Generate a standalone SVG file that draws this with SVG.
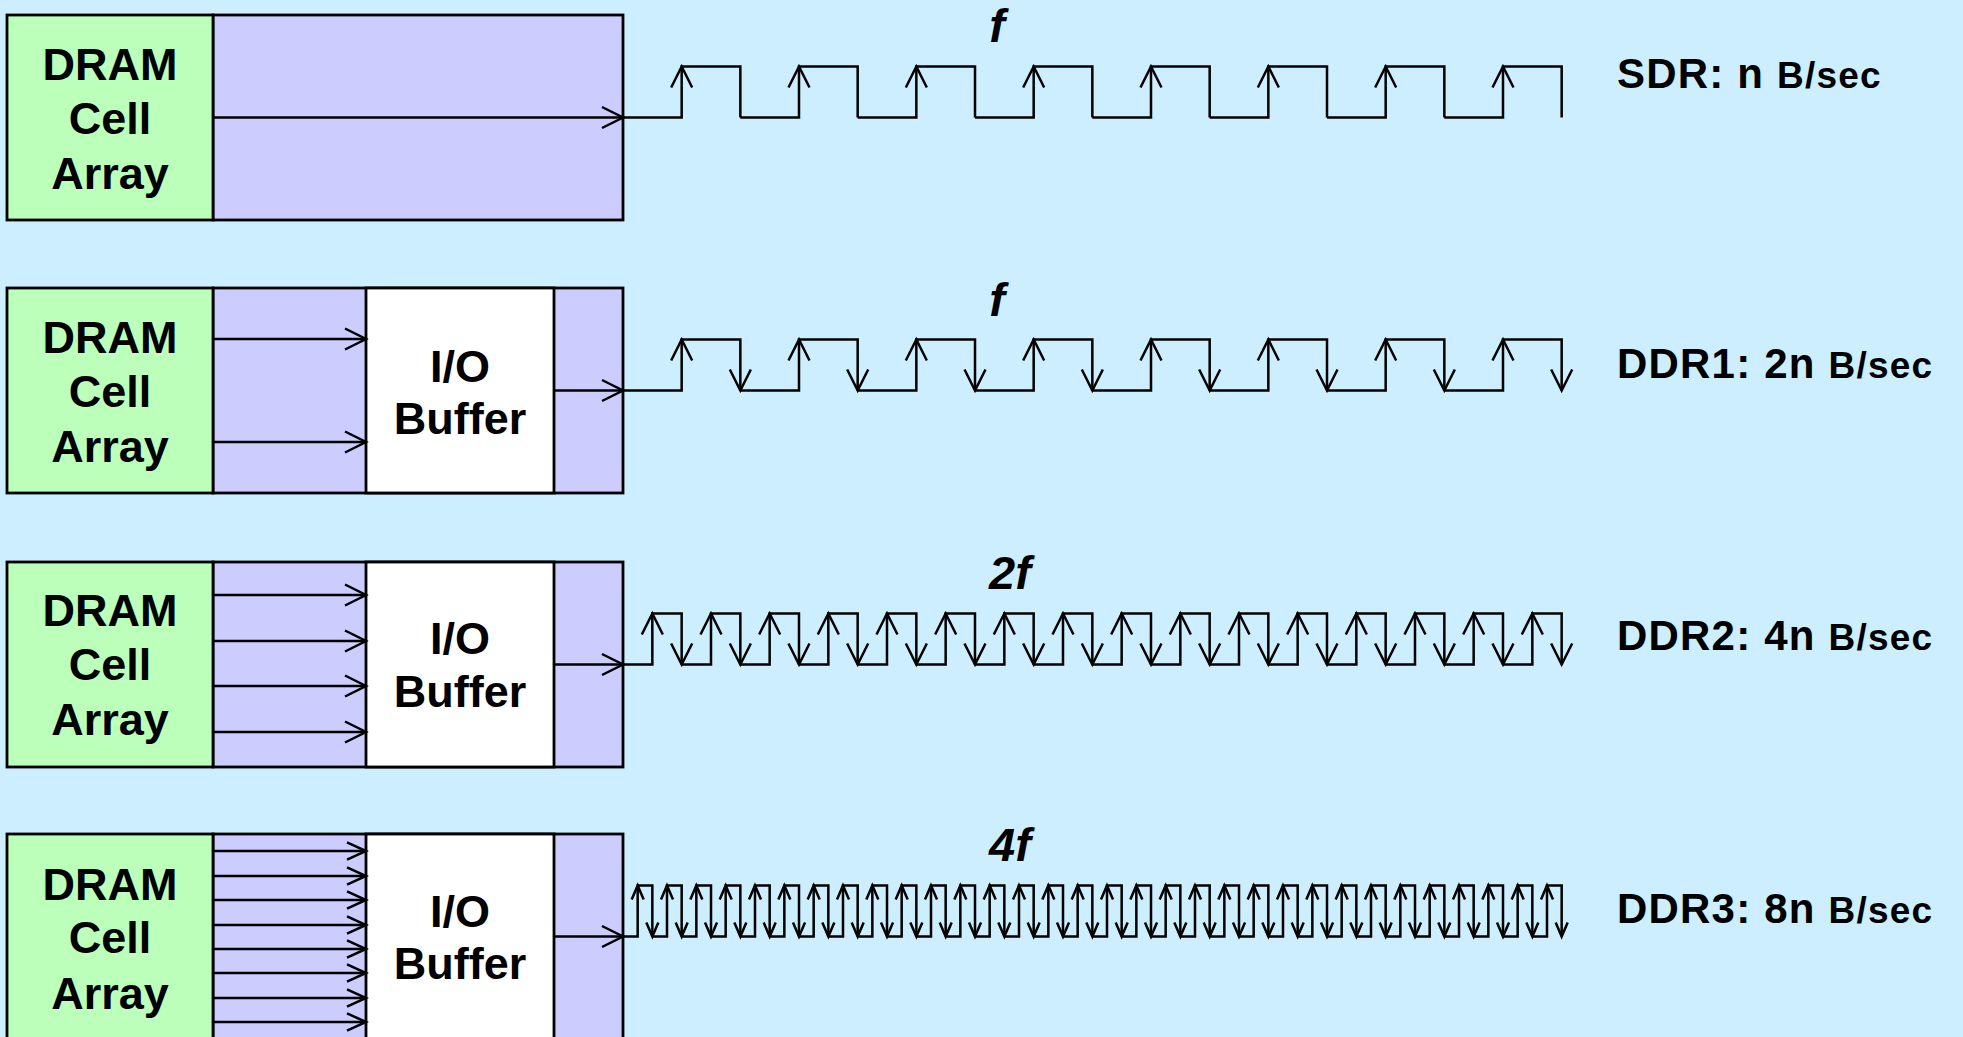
<svg xmlns="http://www.w3.org/2000/svg" xmlns:xlink="http://www.w3.org/1999/xlink" width="1963" height="1037" viewBox="0 0 1963 1037">
  <style>
    .bg { fill: #cceeff; }
    .cell { fill: #bbffbb; stroke: #000; stroke-width: 2.8; }
    .bus { fill: #ccccff; stroke: #000; stroke-width: 2.8; }
    .buf { fill: #ffffff; stroke: #000; stroke-width: 2.8; }
    .lbl { font-family: "Liberation Sans", Arial, sans-serif; font-weight: bold; font-size: 45px; fill: #000; text-anchor: middle; }
    .rate { font-family: "Liberation Sans", Arial, sans-serif; font-weight: bold; font-size: 42px; fill: #000; letter-spacing: 1.2px; }
    .rate .u { font-size: 37px; }
    .freq { font-family: "Liberation Sans", Arial, sans-serif; font-weight: bold; font-style: italic; font-size: 47px; fill: #000; text-anchor: middle; }
    .wire { fill: none; stroke: #000; stroke-width: 2.5; stroke-linejoin: miter; }
    .wave { fill: none; stroke: #000; stroke-width: 2.5; stroke-linejoin: miter; }
  </style>
  <defs>
    <marker id="arrow" markerUnits="userSpaceOnUse" markerWidth="24" markerHeight="24" refX="21" refY="10.5" orient="auto" overflow="visible">
      <path d="M0,0 L21,10.5 L0,21" fill="none" stroke="#000" stroke-width="2.5"/>
    </marker>
    <marker id="arrowSm" markerUnits="userSpaceOnUse" markerWidth="20" markerHeight="20" refX="19" refY="8.7" orient="auto" overflow="visible">
      <path d="M0,0 L19,8.7 L0,17.4" fill="none" stroke="#000" stroke-width="2.5"/>
    </marker>
    <!-- one clock period per row: low run, rising edge, high run, falling edge -->
    <g id="pulseSdr" class="wave">
      <path d="M-58.67,0 H0 V-51 H58.67 V0"/>
      <path d="M-10.5,-30 L0,-51 L10.5,-30"/>
    </g>
    <g id="pulseDdr1" class="wave">
      <path d="M-58.67,0 H0 V-51 H58.67 V0"/>
      <path d="M-10.5,-30 L0,-51 L10.5,-30"/>
      <path d="M48.17,-21 L58.67,0 L69.17,-21"/>
    </g>
    <g id="pulseDdr2" class="wave">
      <path d="M-29.33,0 H0 V-51 H29.33 V0"/>
      <path d="M-10.5,-30 L0,-51 L10.5,-30"/>
      <path d="M18.83,-21 L29.33,0 L39.83,-21"/>
    </g>
    <g id="pulseDdr3" class="wave">
      <path d="M-14.67,0 H0 V-51 H14.67 V0"/>
      <path d="M-6,-37 L0,-51 L6,-37"/>
      <path d="M8.67,-14 L14.67,0 L20.67,-14"/>
    </g>
  </defs>

  <rect class="bg" x="0" y="0" width="1963" height="1037"/>

  <!-- SDR -->
  <g id="sdr-bus"><rect class="bus" x="213" y="15" width="410" height="205"/></g>
  <g id="sdr-cell">
    <rect class="cell" x="7" y="15" width="206" height="205"/>
    <text class="lbl" x="110" y="80">DRAM</text>
    <text class="lbl" x="110" y="134">Cell</text>
    <text class="lbl" x="110" y="189">Array</text>
  </g>

  <!-- DDR1 -->
  <g id="ddr1-bus">
    <rect class="bus" x="213" y="288" width="410" height="205"/>
  </g>
  <g id="ddr1-cell">
    <rect class="cell" x="7" y="288" width="206" height="205"/>
    <text class="lbl" x="110" y="353">DRAM</text>
    <text class="lbl" x="110" y="407">Cell</text>
    <text class="lbl" x="110" y="462">Array</text>
  </g>
  <g id="ddr1-buffer">
    <rect class="buf" x="366" y="288" width="188" height="205"/>
    <text class="lbl" x="460" y="382">I/O</text>
    <text class="lbl" x="460" y="434">Buffer</text>
  </g>

  <!-- DDR2 -->
  <g id="ddr2-bus">
    <rect class="bus" x="213" y="562" width="410" height="205"/>
  </g>
  <g id="ddr2-cell">
    <rect class="cell" x="7" y="562" width="206" height="205"/>
    <text class="lbl" x="110" y="626">DRAM</text>
    <text class="lbl" x="110" y="680">Cell</text>
    <text class="lbl" x="110" y="735">Array</text>
  </g>
  <g id="ddr2-buffer">
    <rect class="buf" x="366" y="562" width="188" height="205"/>
    <text class="lbl" x="460" y="654">I/O</text>
    <text class="lbl" x="460" y="707">Buffer</text>
  </g>

  <!-- DDR3 -->
  <g id="ddr3-bus">
    <rect class="bus" x="213" y="834" width="410" height="205"/>
  </g>
  <g id="ddr3-cell">
    <rect class="cell" x="7" y="834" width="206" height="205"/>
    <text class="lbl" x="110" y="900">DRAM</text>
    <text class="lbl" x="110" y="953">Cell</text>
    <text class="lbl" x="110" y="1009">Array</text>
  </g>
  <g id="ddr3-buffer">
    <rect class="buf" x="366" y="834" width="188" height="205"/>
    <text class="lbl" x="460" y="927">I/O</text>
    <text class="lbl" x="460" y="979">Buffer</text>
  </g>

  <!-- data paths -->
  <g id="connectors" class="wire">
    <line x1="213" y1="117.5" x2="623" y2="117.5" marker-end="url(#arrow)"/>

    <line x1="213" y1="339" x2="366" y2="339" marker-end="url(#arrow)"/>
    <line x1="213" y1="442" x2="366" y2="442" marker-end="url(#arrow)"/>
    <line x1="554" y1="390.5" x2="623" y2="390.5" marker-end="url(#arrow)"/>

    <line x1="213" y1="595" x2="366" y2="595" marker-end="url(#arrow)"/>
    <line x1="213" y1="641" x2="366" y2="641" marker-end="url(#arrow)"/>
    <line x1="213" y1="686" x2="366" y2="686" marker-end="url(#arrow)"/>
    <line x1="213" y1="732" x2="366" y2="732" marker-end="url(#arrow)"/>
    <line x1="554" y1="664.5" x2="623" y2="664.5" marker-end="url(#arrow)"/>

    <line x1="213" y1="851" x2="366" y2="851" marker-end="url(#arrowSm)"/>
    <line x1="213" y1="876" x2="366" y2="876" marker-end="url(#arrowSm)"/>
    <line x1="213" y1="900" x2="366" y2="900" marker-end="url(#arrowSm)"/>
    <line x1="213" y1="925" x2="366" y2="925" marker-end="url(#arrowSm)"/>
    <line x1="213" y1="949" x2="366" y2="949" marker-end="url(#arrowSm)"/>
    <line x1="213" y1="973" x2="366" y2="973" marker-end="url(#arrowSm)"/>
    <line x1="213" y1="998" x2="366" y2="998" marker-end="url(#arrowSm)"/>
    <line x1="213" y1="1022" x2="366" y2="1022" marker-end="url(#arrowSm)"/>
    <line x1="554" y1="936.5" x2="623" y2="936.5" marker-end="url(#arrow)"/>
  </g>

  <!-- clock / data waveforms -->
  <g id="wave-sdr" transform="translate(681.67,117.5)">
    <use xlink:href="#pulseSdr" x="0"/>
    <use xlink:href="#pulseSdr" x="117.33"/>
    <use xlink:href="#pulseSdr" x="234.67"/>
    <use xlink:href="#pulseSdr" x="352"/>
    <use xlink:href="#pulseSdr" x="469.33"/>
    <use xlink:href="#pulseSdr" x="586.67"/>
    <use xlink:href="#pulseSdr" x="704"/>
    <use xlink:href="#pulseSdr" x="821.33"/>
  </g>
  <g id="wave-ddr1" transform="translate(681.67,390.5)">
    <use xlink:href="#pulseDdr1" x="0"/>
    <use xlink:href="#pulseDdr1" x="117.33"/>
    <use xlink:href="#pulseDdr1" x="234.67"/>
    <use xlink:href="#pulseDdr1" x="352"/>
    <use xlink:href="#pulseDdr1" x="469.33"/>
    <use xlink:href="#pulseDdr1" x="586.67"/>
    <use xlink:href="#pulseDdr1" x="704"/>
    <use xlink:href="#pulseDdr1" x="821.33"/>
  </g>
  <g id="wave-ddr2" transform="translate(652.33,664.5)">
    <use xlink:href="#pulseDdr2" x="0"/>
    <use xlink:href="#pulseDdr2" x="58.67"/>
    <use xlink:href="#pulseDdr2" x="117.33"/>
    <use xlink:href="#pulseDdr2" x="176"/>
    <use xlink:href="#pulseDdr2" x="234.67"/>
    <use xlink:href="#pulseDdr2" x="293.33"/>
    <use xlink:href="#pulseDdr2" x="352"/>
    <use xlink:href="#pulseDdr2" x="410.67"/>
    <use xlink:href="#pulseDdr2" x="469.33"/>
    <use xlink:href="#pulseDdr2" x="528"/>
    <use xlink:href="#pulseDdr2" x="586.67"/>
    <use xlink:href="#pulseDdr2" x="645.33"/>
    <use xlink:href="#pulseDdr2" x="704"/>
    <use xlink:href="#pulseDdr2" x="762.67"/>
    <use xlink:href="#pulseDdr2" x="821.33"/>
    <use xlink:href="#pulseDdr2" x="880"/>
  </g>
  <g id="wave-ddr3" transform="translate(637.67,936.5)">
    <use xlink:href="#pulseDdr3" x="0"/>
    <use xlink:href="#pulseDdr3" x="29.33"/>
    <use xlink:href="#pulseDdr3" x="58.67"/>
    <use xlink:href="#pulseDdr3" x="88"/>
    <use xlink:href="#pulseDdr3" x="117.33"/>
    <use xlink:href="#pulseDdr3" x="146.67"/>
    <use xlink:href="#pulseDdr3" x="176"/>
    <use xlink:href="#pulseDdr3" x="205.33"/>
    <use xlink:href="#pulseDdr3" x="234.67"/>
    <use xlink:href="#pulseDdr3" x="264"/>
    <use xlink:href="#pulseDdr3" x="293.33"/>
    <use xlink:href="#pulseDdr3" x="322.67"/>
    <use xlink:href="#pulseDdr3" x="352"/>
    <use xlink:href="#pulseDdr3" x="381.33"/>
    <use xlink:href="#pulseDdr3" x="410.67"/>
    <use xlink:href="#pulseDdr3" x="440"/>
    <use xlink:href="#pulseDdr3" x="469.33"/>
    <use xlink:href="#pulseDdr3" x="498.67"/>
    <use xlink:href="#pulseDdr3" x="528"/>
    <use xlink:href="#pulseDdr3" x="557.33"/>
    <use xlink:href="#pulseDdr3" x="586.67"/>
    <use xlink:href="#pulseDdr3" x="616"/>
    <use xlink:href="#pulseDdr3" x="645.33"/>
    <use xlink:href="#pulseDdr3" x="674.67"/>
    <use xlink:href="#pulseDdr3" x="704"/>
    <use xlink:href="#pulseDdr3" x="733.33"/>
    <use xlink:href="#pulseDdr3" x="762.67"/>
    <use xlink:href="#pulseDdr3" x="792"/>
    <use xlink:href="#pulseDdr3" x="821.33"/>
    <use xlink:href="#pulseDdr3" x="850.67"/>
    <use xlink:href="#pulseDdr3" x="880"/>
    <use xlink:href="#pulseDdr3" x="909.33"/>
  </g>

  <!-- clock rates -->
  <text class="freq" x="997" y="42">f</text>
  <text class="freq" x="997" y="316">f</text>
  <text class="freq" x="1010" y="589">2f</text>
  <text class="freq" x="1010" y="861">4f</text>

  <!-- bandwidth -->
  <text class="rate" x="1617" y="88">SDR: n <tspan class="u">B/sec</tspan></text>
  <text class="rate" x="1617" y="378">DDR1: 2n <tspan class="u">B/sec</tspan></text>
  <text class="rate" x="1617" y="650">DDR2: 4n <tspan class="u">B/sec</tspan></text>
  <text class="rate" x="1617" y="923">DDR3: 8n <tspan class="u">B/sec</tspan></text>
</svg>
